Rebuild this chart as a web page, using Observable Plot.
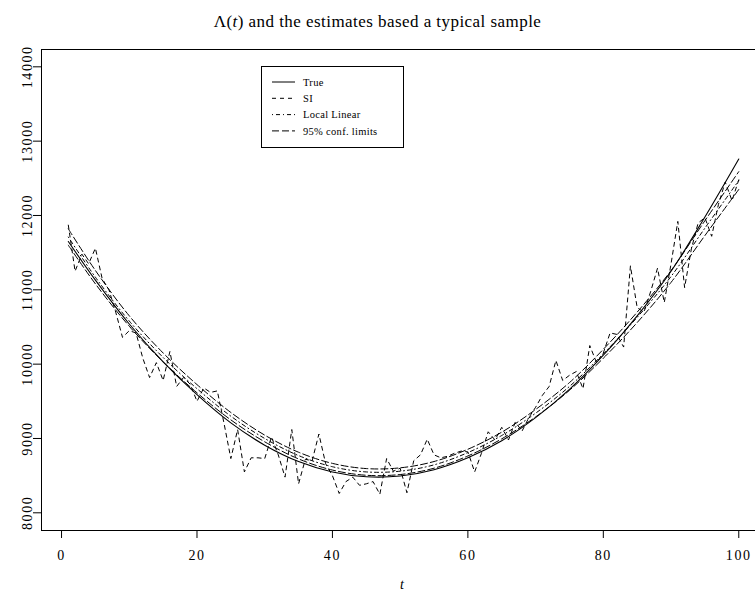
<!DOCTYPE html>
<html><head><meta charset="utf-8">
<script src="https://cdn.jsdelivr.net/npm/d3@7"></script>
<script src="https://cdn.jsdelivr.net/npm/@observablehq/plot@0.6"></script>
<style>
body{margin:0;background:#fff;}
#wrap{position:relative;width:755px;height:597px;font-family:"Liberation Serif",serif;color:#000;overflow:hidden;}
#title{position:absolute;left:0;width:755px;top:12px;text-align:center;font-size:17px;letter-spacing:0.45px;}
#xlab{position:absolute;left:400px;top:577px;font-size:14px;font-style:italic;}
#legend{position:absolute;left:261px;top:66px;}
</style></head><body>
<div id="wrap"><div id="chart"></div>
<div id="title">Λ(<i>t</i>) and the estimates based a typical sample</div>
<div id="xlab">t</div>
<div id="legend"></div></div>
<script>
// sample points for the SI estimate, t = 1..100
const tAll = d3.range(1, 101);
const siValues = [11870,11250,11480,11350,11560,11150,11000,10700,10360,10450,
10420,10080,9820,10020,9780,10170,9700,9820,9730,9500,
9680,9620,9640,9200,8730,9120,8550,8740,8740,8730,
9020,8780,8480,9120,8390,8720,8700,9060,8660,8500,
8260,8420,8480,8370,8390,8420,8250,8730,8560,8600,
8270,8700,8780,8990,8780,8740,8760,8800,8830,8820,
8550,8800,9090,8980,9150,8980,9220,9100,9280,9420,
9580,9700,10050,9780,9850,9900,9670,10250,10020,10150,
10420,10400,10230,11320,10760,10700,10980,11290,10830,11350,
11920,11030,11550,11900,11970,11720,12150,12450,12200,12480];

// smooth curves read at these t
const tKnots = [1,5,10,15,20,25,30,35,40,45,50,55,60,65,70,75,80,85,90,95,100];
const trueValues = [11650,11130,10540,10030,9590,9210,8910,8690,8550,8485,8495,8580,8740,8970,9280,9660,10120,10650,11250,11980,12760];
const llValues   = [11710,11170,10580,10090,9670,9300,9000,8770,8620,8550,8560,8645,8810,9040,9340,9700,10140,10630,11180,11830,12470];
const upperValues= [11820,11260,10650,10150,9725,9350,9045,8815,8665,8595,8605,8690,8855,9085,9390,9752,10200,10700,11260,11930,12590];
const lowerValues= [11600,11080,10510,10030,9615,9250,8955,8725,8575,8505,8515,8600,8765,8995,9290,9648,10080,10560,11100,11730,12350];

const xTicks = [0,20,40,60,80,100];
const yTicks = [8000,9000,10000,11000,12000,13000,14000];
const xDomain = [-2.96, 102.47];
const yDomain = [7762, 14233];

const legendLabels = ["True","SI","Local Linear","95% conf. limits"];
const dashes = {True: null, SI: "4,4", LL: "1,3,4,3", CI: "7,3"};

const si = tAll.map((t,i)=>({t, v: siValues[i]}));
const mk = vals => tKnots.map((t,i)=>({t, v: vals[i]}));

const chart = Plot.plot({
  width: 755, height: 597,
  marginTop: 49, marginBottom: 67, marginLeft: 41, marginRight: 0,
  style: {fontFamily: "Liberation Serif, serif", fontSize: "14px", color: "#000", background: "#fff", letterSpacing: "1.6px"},
  x: {domain: xDomain},
  y: {domain: yDomain},
  marks: [
    Plot.ruleX([xDomain[0]], {stroke: "#000"}),
    Plot.ruleY([yDomain[0], yDomain[1]], {stroke: "#000"}),
    Plot.axisX({ticks: xTicks, tickSize: 8, tickPadding: 12, label: null, fontSize: 14}),
    Plot.axisY({ticks: yTicks, tickSize: 8, tickPadding: 2, tickRotate: -90, tickFormat: d => String(d), label: null, fontSize: 14}),
    Plot.line(si, {x: "t", y: "v", stroke: "#000", strokeWidth: 1, strokeDasharray: dashes.SI}),
    Plot.line(mk(upperValues), {x: "t", y: "v", stroke: "#000", strokeWidth: 1, strokeDasharray: dashes.CI, curve: "catmull-rom"}),
    Plot.line(mk(lowerValues), {x: "t", y: "v", stroke: "#000", strokeWidth: 1, strokeDasharray: dashes.CI, curve: "catmull-rom"}),
    Plot.line(mk(llValues), {x: "t", y: "v", stroke: "#000", strokeWidth: 1, strokeDasharray: dashes.LL, curve: "catmull-rom"}),
    Plot.line(mk(trueValues), {x: "t", y: "v", stroke: "#000", strokeWidth: 1.1, curve: "catmull-rom"})
  ]
});
document.getElementById("chart").appendChild(chart);

// legend
const dashList = [dashes.True, dashes.SI, dashes.LL, dashes.CI];
const lg = d3.select("#legend").append("svg").attr("width", 145).attr("height", 83);
lg.append("rect").attr("x",0.5).attr("y",0.5).attr("width",142).attr("height",81).attr("fill","#fff").attr("stroke","#000");
legendLabels.forEach((lab,i)=>{
  const y = 16 + i*16.3;
  lg.append("line").attr("x1",11).attr("x2",34).attr("y1",y).attr("y2",y).attr("stroke","#000").attr("stroke-width",1)
    .attr("stroke-dasharray", dashList[i]);
  lg.append("text").attr("x",42).attr("y",y).attr("dy","0.35em").attr("font-size","10.5px").attr("letter-spacing","0.3px").attr("font-family","Liberation Serif, serif").text(lab);
});
</script>
</body></html>
